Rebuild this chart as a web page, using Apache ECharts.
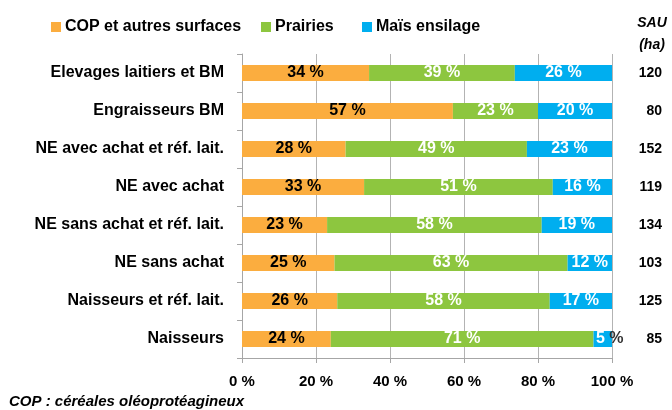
<!DOCTYPE html>
<html>
<head>
<meta charset="utf-8">
<script src="https://cdn.jsdelivr.net/npm/echarts@6/dist/echarts.min.js"></script>
<style>
  html, body { margin: 0; padding: 0; background: #fff; }
  #main { width: 672px; height: 410px; }
</style>
</head>
<body>
<div id="main"></div>
<script>
  // types d'exploitation (de haut en bas)
  var categories = [
    'Elevages laitiers et BM',
    'Engraisseurs BM',
    'NE avec achat et réf. lait.',
    'NE avec achat',
    'NE sans achat et réf. lait.',
    'NE sans achat',
    'Naisseurs et réf. lait.',
    'Naisseurs'
  ];
  // parts de l'assolement (%)
  var cop = [34, 57, 28, 33, 23, 25, 26, 24];
  var prairies = [39, 23, 49, 51, 58, 63, 58, 71];
  var mais = [26, 20, 23, 16, 19, 12, 17, 5];
  // SAU (ha)
  var sau = [120, 80, 152, 119, 134, 103, 125, 85];
  var xTicks = [0, 20, 40, 60, 80, 100];
  var seriesNames = ['COP et autres surfaces', 'Prairies', 'Maïs ensilage'];

  var font = 'Arial, "Liberation Sans", sans-serif';

  // empilement 100 % : chaque ligne ramenee a 100
  function share (arr) {
    return arr.map(function (v, i) {
      var tot = cop[i] + prairies[i] + mais[i];
      return { value: v / tot * 100, raw: v };
    });
  }

  function makeSeries (name, arr, color, txtColor) {
    return {
      name: name,
      type: 'bar',
      stack: 'total',
      barWidth: 16,
      itemStyle: { color: color },
      label: {
        show: true,
        position: 'inside',
        fontFamily: font,
        fontWeight: 'bold',
        fontSize: 16,
        color: txtColor,
        formatter: function (p) {
          var v = p.data.raw;
          // petite valeur : le % deborde de la barre
          if (v < 8) return '{w|' + v + ' }{k|%}';
          return v + ' %';
        },
        rich: {
          w: { color: txtColor, fontFamily: font, fontWeight: 'bold', fontSize: 16 },
          k: { color: '#333', fontFamily: font, fontWeight: 'bold', fontSize: 16 }
        }
      },
      labelLayout: function (p) {
        return p.dataIndex === 7 && name === 'Maïs ensilage' ? { dx: 7 } : {};
      },
      emphasis: { disabled: true },
      data: share(arr)
    };
  }

  function makeLegend (name, left) {
    return {
      left: left,
      top: 14,
      itemWidth: 10,
      itemHeight: 10,
      icon: 'rect',
      textStyle: { fontFamily: font, fontWeight: 'bold', fontSize: 16, color: '#000', padding: [0, 0, 0, -1] },
      data: [name]
    };
  }

  var myChart = echarts.init(document.getElementById('main'));
  var option = {
    animation: false,
    textStyle: { fontFamily: font },
    legend: [
      makeLegend(seriesNames[0], 46),
      makeLegend(seriesNames[1], 256),
      makeLegend(seriesNames[2], 357)
    ],
    graphic: [
      {
        type: 'text',
        x: 652,
        y: 12,
        style: {
          text: 'SAU\n(ha)',
          align: 'center',
          lineHeight: 22,
          font: 'italic bold 14px ' + font,
          fill: '#000'
        }
      },
      {
        type: 'text',
        left: 9,
        top: 394,
        style: {
          text: 'COP : céréales oléoprotéagineux',
          font: 'italic bold 15px ' + font,
          fill: '#000'
        }
      }
    ],
    grid: {
      left: 242,
      right: 60,
      top: 54,
      bottom: 52
    },
    xAxis: {
      type: 'value',
      min: 0,
      max: 100,
      interval: 20,
      axisLine: { show: true, lineStyle: { color: '#a6a6a6' } },
      axisTick: { show: true, length: 5, lineStyle: { color: '#a6a6a6' } },
      splitLine: { show: true, lineStyle: { color: '#b3b3b3', width: 1 } },
      axisLabel: {
        margin: 16,
        fontFamily: font,
        fontWeight: 'bold',
        fontSize: 15,
        color: '#000',
        formatter: function (v) { return xTicks.indexOf(v) >= 0 ? v + ' %' : ''; }
      }
    },
    yAxis: [
      {
        type: 'category',
        inverse: true,
        data: categories,
        axisLine: { show: true, lineStyle: { color: '#a6a6a6' } },
        axisTick: { show: true, length: 5, lineStyle: { color: '#a6a6a6' } },
        axisLabel: {
          margin: 18,
          fontFamily: font,
          fontWeight: 'bold',
          fontSize: 16,
          color: '#000'
        }
      },
      {
        type: 'category',
        inverse: true,
        position: 'right',
        data: sau,
        axisLine: { show: false },
        axisTick: { show: false },
        axisLabel: {
          margin: 50,
          align: 'right',
          fontFamily: font,
          fontWeight: 'bold',
          fontSize: 14,
          color: '#000'
        }
      }
    ],
    series: [
      makeSeries(seriesNames[0], cop, '#FBAD3F', '#000'),
      makeSeries(seriesNames[1], prairies, '#8DC63F', '#fff'),
      makeSeries(seriesNames[2], mais, '#00AEEF', '#fff')
    ]
  };
  myChart.setOption(option);
</script>
</body>
</html>
